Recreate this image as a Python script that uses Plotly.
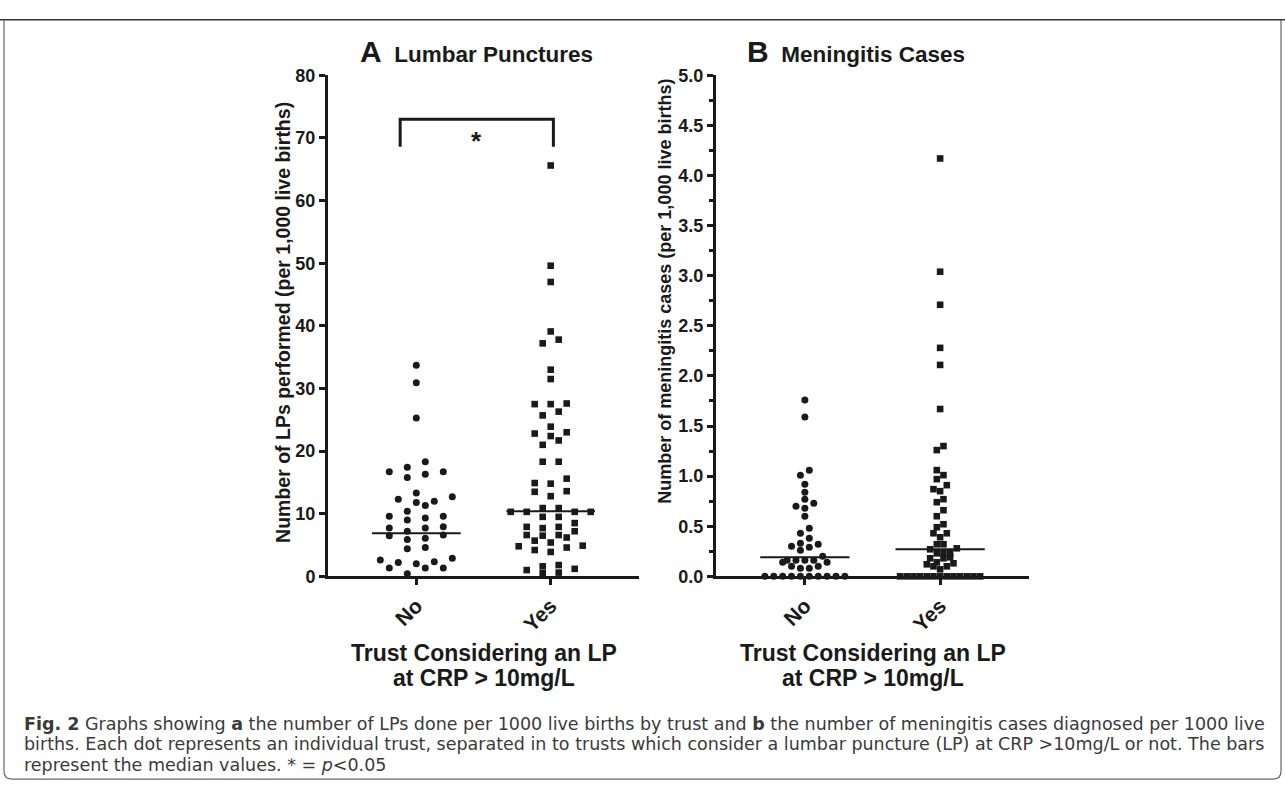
import numpy as np
import plotly.graph_objects as go

# ---------------- data ----------------
groups = ["No", "Yes"]

lp_no = [33.7, 30.9, 25.3, 18.3, 17.4, 16.7, 16.7, 16.3, 15.8, 13.3, 12.7, 12.3, 12.0,
         11.8, 11.3, 10.4, 9.6, 9.6, 9.3, 9.0, 7.9, 7.7, 7.7, 7.2, 6.6, 6.5, 6.1, 5.9,
         4.6, 4.4, 2.9, 2.6, 2.35, 2.2, 2.0, 1.35, 1.35, 1.35, 0.4]
lp_yes = [65.6, 49.6, 47.0, 39.1, 37.8, 37.2, 33.0, 31.5, 27.6, 27.5, 27.5, 26.3, 25.7,
          23.9, 23.0, 22.8, 22.4, 21.7, 21.0, 18.3, 18.3, 15.6, 14.9, 14.8, 13.6, 13.5,
          12.8, 10.9, 10.9, 10.3, 10.3, 10.3, 10.3, 9.5, 9.5, 8.5, 7.9, 7.9, 7.7, 7.2,
          6.6, 6.6, 6.5, 6.2, 5.7, 5.4, 4.9, 4.8, 4.6, 4.2, 3.9, 1.8, 1.6, 1.2, 1.0, 0.6, 0.5]
lp_medians = [6.9, 10.4]

men_no = [1.76, 1.59, 1.06, 1.01, 0.92, 0.84, 0.77, 0.73, 0.70, 0.68, 0.60, 0.48, 0.43,
          0.38, 0.33, 0.32, 0.30, 0.29, 0.26, 0.20, 0.16, 0.16, 0.16, 0.16, 0.14, 0.14,
          0.10, 0.10, 0.08, 0.08, 0, 0, 0, 0, 0, 0, 0, 0, 0, 0]
men_yes = [4.17, 3.04, 2.71, 2.28, 2.11, 1.67, 1.30, 1.26, 1.06, 1.01, 0.97, 0.91, 0.87,
           0.85, 0.77, 0.74, 0.66, 0.60, 0.52, 0.49, 0.43, 0.43, 0.39, 0.32, 0.32, 0.28,
           0.27, 0.23, 0.23, 0.23, 0.19, 0.18, 0.18, 0.14, 0.13, 0.12, 0.10, 0.10, 0.07,
           0, 0, 0, 0, 0, 0, 0, 0, 0, 0, 0, 0, 0]
men_medians = [0.19, 0.27]

lp_ticks = list(range(0, 81, 10))
men_ticks = [round(0.5 * i, 1) for i in range(11)]
sig_height = 73.0
sig_label = "*"

# ---------------- layout geometry (pixels) ----------------
W, H = 1285, 793
Y_TOP, Y_BOT = 67, 581
A_X0, A_X1 = 328, 639
B_X0, B_X1 = 716, 1029
XR = [-0.657, 1.657]
INK = "#1a1a1a"
FONT = "Liberation Sans, Arial, sans-serif"


def px(x):
    return x / W


def py(y):
    return 1 - y / H


def row_swarm(vals, ppu_y, ppu_x, h=7.0, smax=18.0, wmax=80.0, d=7.0):
    """GraphPad-like scatter: bin into rows, spread each row symmetrically."""
    v = np.asarray(vals, float)
    order = np.argsort(v, kind="stable")
    rows, cur, start = [], [], None
    for i in order:
        y = v[i] * ppu_y
        if cur and y - start >= h:
            rows.append(cur)
            cur = []
        if not cur:
            start = y
        cur.append(i)
    rows.append(cur)
    nmax = max(len(r) for r in rows)
    s = smax if nmax < 2 else min(smax, wmax / (nmax - 1))
    xs = np.zeros(len(v))
    placed = []
    for r in rows:
        n = len(r)
        base = [(k - (n - 1) / 2) * s for k in range(n)]
        base = sorted(base, key=lambda p: (abs(p), p))
        best = None
        for sh in [0, s / 2, -s / 2, s, -s]:
            pos = [b + sh for b in base]
            coll = sum(1 for i, p in zip(r, pos) for (a, b) in placed
                       if (p - a) ** 2 + (v[i] * ppu_y - b) ** 2 < d * d)
            if best is None or coll < best[0]:
                best = (coll, pos)
            if coll == 0:
                break
        for i, p in zip(r, best[1]):
            xs[i] = p
            placed.append((p, v[i] * ppu_y))
    return xs / ppu_x


ppu_x_A = (A_X1 - A_X0) / (XR[1] - XR[0])
ppu_x_B = (B_X1 - B_X0) / (XR[1] - XR[0])
ppu_y_A = (Y_BOT - Y_TOP) / 80.0
ppu_y_B = (Y_BOT - Y_TOP) / 5.0

fig = go.Figure()


def add_group(vals, gi, symbol, xa, ya, ppx, ppy):
    off = row_swarm(vals, ppy, ppx)
    fig.add_trace(go.Scatter(
        x=gi + off, y=vals, mode="markers", xaxis=xa, yaxis=ya, cliponaxis=False,
        marker=dict(symbol=symbol, size=7 if symbol == "circle" else 6.6, color=INK,
                    line=dict(width=0)),
        showlegend=False, hoverinfo="y"))


add_group(lp_no, 0, "circle", "x", "y", ppu_x_A, ppu_y_A)
add_group(lp_yes, 1, "square", "x", "y", ppu_x_A, ppu_y_A)
add_group(men_no, 0, "circle", "x2", "y2", ppu_x_B, ppu_y_B)
add_group(men_yes, 1, "square", "x2", "y2", ppu_x_B, ppu_y_B)

# median bars
for meds, xa, ya in [(lp_medians, "x", "y"), (men_medians, "x2", "y2")]:
    for gi, m in enumerate(meds):
        fig.add_trace(go.Scatter(x=[gi - 0.33, gi + 0.33], y=[m, m], mode="lines",
                                 xaxis=xa, yaxis=ya, cliponaxis=False,
                                 line=dict(color=INK, width=2), showlegend=False,
                                 hoverinfo="skip"))

# significance bracket
fig.add_trace(go.Scatter(x=[-0.12, -0.12, 1.02, 1.02],
                         y=[sig_height - 4.4, sig_height, sig_height, sig_height - 4.4],
                         mode="lines", xaxis="x", yaxis="y", cliponaxis=False,
                         line=dict(color=INK, width=3), showlegend=False, hoverinfo="skip"))

axis_common = dict(showgrid=False, zeroline=False, showline=True, linecolor=INK,
                   linewidth=3, ticks="outside", tickcolor=INK, tickwidth=2.5,
                   ticklen=6, fixedrange=True)

xfont = dict(family=FONT, size=21, color=INK, weight="bold")
yfont = dict(family=FONT, size=18, color=INK, weight="bold")

fig.update_layout(
    width=W, height=H, margin=dict(l=0, r=0, t=0, b=0),
    paper_bgcolor="white", plot_bgcolor="white", showlegend=False,
    xaxis=dict(domain=[px(A_X0), px(A_X1)], range=XR, anchor="y",
               tickvals=[0, 1], ticktext=groups, tickangle=-45, tickfont=xfont,
               **axis_common),
    yaxis=dict(domain=[py(Y_BOT), py(Y_TOP)], range=[0, 80], anchor="x",
               tickvals=lp_ticks, tickfont=yfont, **axis_common),
    xaxis2=dict(domain=[px(B_X0), px(B_X1)], range=XR, anchor="y2",
                tickvals=[0, 1], ticktext=groups, tickangle=-45, tickfont=xfont,
                **axis_common),
    yaxis2=dict(domain=[py(Y_BOT), py(Y_TOP)], range=[0, 5], anchor="x2",
                tickvals=men_ticks, tickformat=".1f", tickfont=yfont,
                minor=dict(dtick=0.25, ticks="outside", ticklen=4, tickwidth=2.5,
                           tickcolor=INK, showgrid=False),
                **axis_common),
)

ann = []
# panel titles
ann.append(dict(x=px(358), y=py(43), xref="paper", yref="paper", xanchor="left",
                yanchor="middle", showarrow=False,
                text="<b><span style='font-size:30px'>A</span>  Lumbar Punctures</b>",
                font=dict(family=FONT, size=22.5, color=INK)))
ann.append(dict(x=px(745), y=py(43), xref="paper", yref="paper", xanchor="left",
                yanchor="middle", showarrow=False,
                text="<b><span style='font-size:30px'>B</span>  Meningitis Cases</b>",
                font=dict(family=FONT, size=22.5, color=INK)))
# y-axis titles
ann.append(dict(x=px(283), y=py(321), xref="paper", yref="paper", textangle=-90,
                showarrow=False, xanchor="center", yanchor="middle",
                text="<b>Number of LPs performed (per 1,000 live births)</b>",
                font=dict(family=FONT, size=19.5, color=INK)))
ann.append(dict(x=px(665), y=py(289), xref="paper", yref="paper", textangle=-90,
                showarrow=False, xanchor="center", yanchor="middle",
                text="<b>Number of meningitis cases (per 1,000 live births)</b>",
                font=dict(family=FONT, size=18, color=INK)))
# x-axis titles (two lines each)
for cx in [(A_X0 + A_X1) / 2, (B_X0 + B_X1) / 2]:
    for yy, t in [(660, "<b>Trust Considering an LP</b>"), (685, "<b>at CRP > 10mg/L</b>")]:
        ann.append(dict(x=px(cx), y=py(yy), xref="paper", yref="paper", showarrow=False,
                        xanchor="center", yanchor="middle", text=t,
                        font=dict(family=FONT, size=23, color=INK)))
# significance star
ann.append(dict(x=0.45, y=sig_height - 3.5, xref="x", yref="y", showarrow=False,
                xanchor="center", yanchor="middle", text="<b>" + sig_label + "</b>",
                font=dict(family=FONT, size=26, color=INK)))

# caption
CAP = "DejaVu Sans, Open Sans, sans-serif"
cap_lines = [
    "<b>Fig. 2</b> Graphs showing <b>a</b> the number of LPs done per 1000 live births by trust "
    "and <b>b</b> the number of meningitis cases diagnosed per 1000 live",
    "births. Each dot represents an individual trust, separated in to trusts which consider "
    "a lumbar puncture (LP) at CRP &gt;10mg/L or not. The bars",
    "represent the median values. * = <i>p</i>&lt;0.05",
]
for i, t in enumerate(cap_lines):
    ann.append(dict(x=px(22), y=py(732 + 21.5 * i), xref="paper", yref="paper",
                    showarrow=False, xanchor="left", yanchor="middle", text=t,
                    font=dict(family=CAP, size=17.5, color="#3a3a3a")))

fig.update_layout(annotations=ann)

# frame around figure
fig.add_shape(type="line", xref="paper", yref="paper", x0=0, x1=1, y0=py(10), y1=py(10),
              line=dict(color="#333333", width=1.6))
path = (f"M {px(4)},{py(10)} L {px(4)},{py(781)} Q {px(4)},{py(789)} {px(12)},{py(789)} "
        f"L {px(1273)},{py(789)} Q {px(1281)},{py(789)} {px(1281)},{py(781)} "
        f"L {px(1281)},{py(10)}")
fig.add_shape(type="path", xref="paper", yref="paper", path=path,
              line=dict(color="#666666", width=1.2))

fig.write_html("out.html", config={"displayModeBar": False},
               post_script="document.documentElement.style.margin='0';"
                           "document.body.style.margin='0';"
                           "document.body.style.overflow='hidden';")
